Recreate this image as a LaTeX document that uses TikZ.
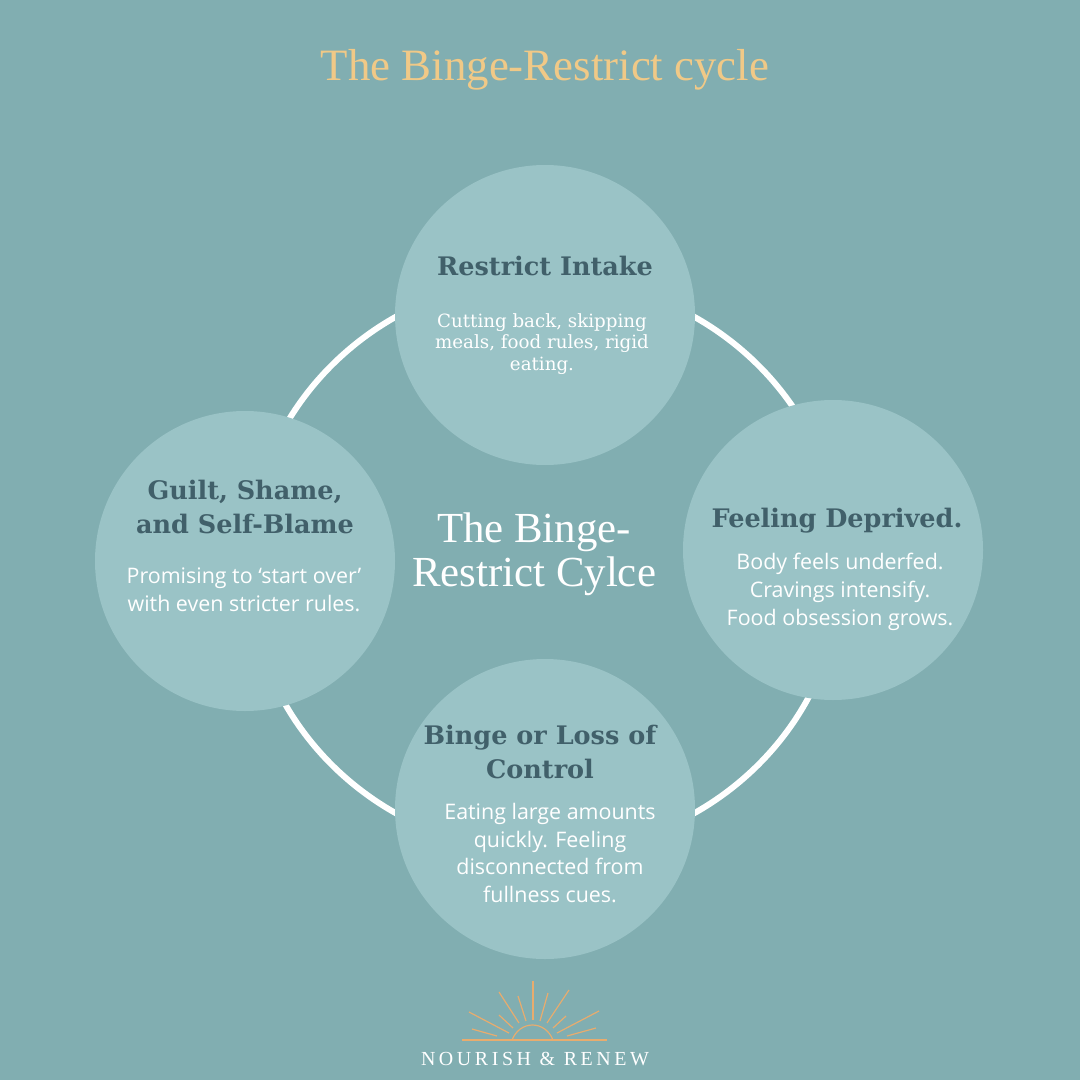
\documentclass[tikz,border=0pt]{standalone}
\usepackage{fontspec}
\setmainfont{Open Sans}
\newfontfamily\headfont{DejaVu Serif}
\newfontfamily\titlefont{Liberation Serif}
\definecolor{bgc}{HTML}{81AEB1}
\definecolor{circ}{HTML}{9AC3C6}
\definecolor{headc}{HTML}{41606A}
\definecolor{gold}{HTML}{F0C987}
\definecolor{sun}{HTML}{E8AC6E}
\tikzset{
 blob/.style={circle,fill=circ,minimum size=300*0.01389in,inner sep=0pt},
 head/.style={text=headc,align=center,font=\headfont\bfseries\fontsize{25.6}{33.5}\selectfont,inner sep=0pt},
 body/.style={text=white,align=center,font=\fontsize{21.5}{28}\selectfont,inner sep=0pt},
 serifbody/.style={text=white,align=center,font=\headfont\fontsize{18.3}{21.7}\selectfont,inner sep=0pt},
 ray/.style={draw=sun,line width=1.2pt},
}
\begin{document}
\begin{tikzpicture}[x=0.01389in,y=-0.01389in]
\useasboundingbox (0,0) rectangle (1080,1080);
\fill[bgc] (0,0) rectangle (1080,1080);
\coordinate (ctr) at (545,565);
\draw[white,line width=6pt] (ctr) ellipse [x radius=297,y radius=287];
\node[blob] (top) at (545,315) {};
\node[blob] (right) at (833,550) {};
\node[blob] (bottom) at (545,809) {};
\node[blob] (left) at (245,561) {};
\node[text=gold,font=\titlefont\fontsize{45}{50}\selectfont] (title) at (545,70) {The Binge-Restrict cycle};
\node[text=white,align=center,font=\titlefont\fontsize{43}{44}\selectfont] (center) at (534,554) {The Binge-\\Restrict Cylce};
\node[head] (h1) at (545,266) {Restrict Intake};
\node[serifbody] (b1) at (542,344) {Cutting back, skipping\\meals, food rules, rigid\\eating.};
\node[head] (h2) at (837,521) {Feeling Deprived.};
\node[body] (b2) at (840,592) {Body feels underfed.\\Cravings intensify.\\Food obsession grows.};
\node[head] (h3) at (540,752) {Binge or Loss of\\Control};
\node[body] (b3) at (550,853) {Eating large amounts\\quickly. Feeling\\disconnected from\\fullness cues.};
\node[head] (h4) at (245,507) {Guilt, Shame,\\and Self-Blame};
\node[body] (b4) at (244,590) {Promising to ‘start over’\\with even stricter rules.};
% sun logo
\draw[ray,line width=1.4pt] (462,1040) -- (607,1040);
\draw[ray] (512,1040) .. controls (520,1020) and (545,1020) .. (553,1040);
\foreach \xa/\ya/\xb/\yb in {533/1020/533/981, 526/1021/518/996, 519/1023/499/992, 513/1028/499/1015, 509/1033/469/1012, 497/1036/472/1029, 540/1021/548/993, 547/1023/569/990, 553/1028/566/1016, 557/1033/599/1011, 567/1036/596/1028}{
 \draw[ray] (\xa,\ya) -- (\xb,\yb);
}
\node[text=white,font=\titlefont\addfontfeature{LetterSpace=18}\fontsize{20}{24}\selectfont] (brand) at (535,1059) {NOURISH \& RENEW};
\end{tikzpicture}
\end{document}
